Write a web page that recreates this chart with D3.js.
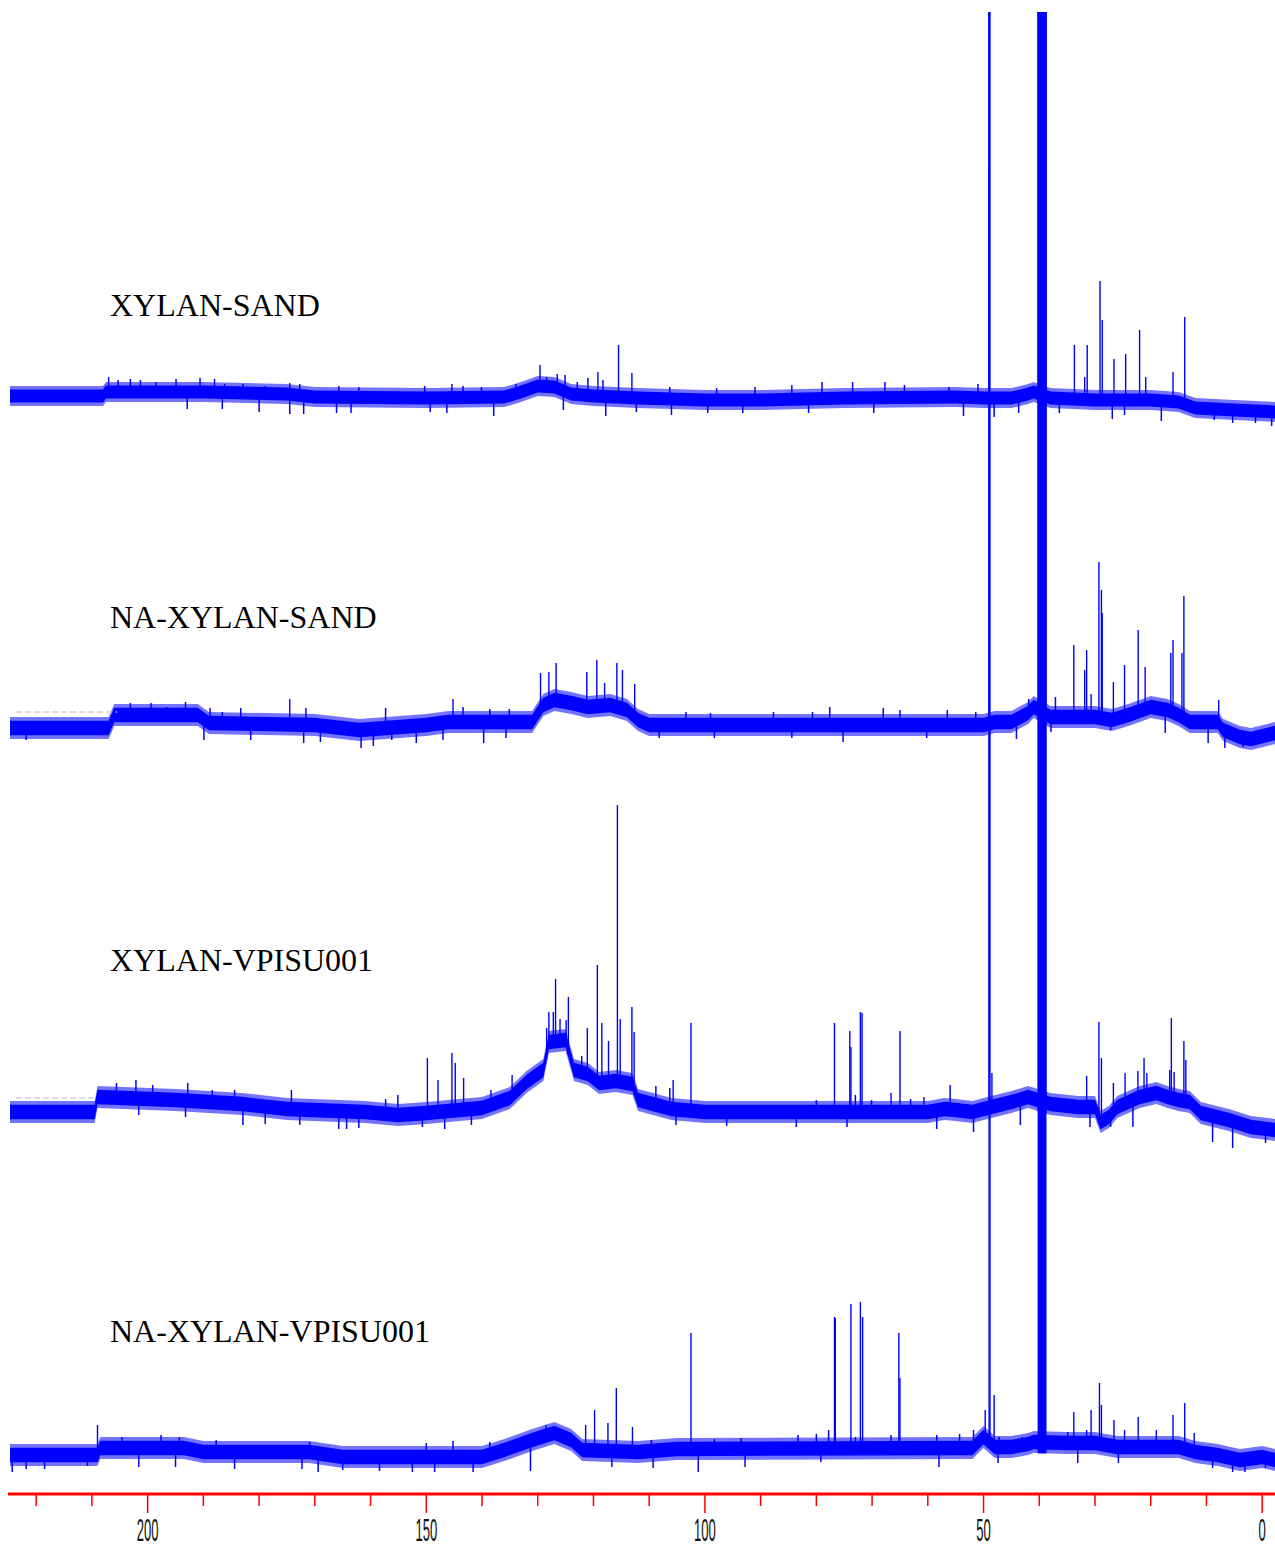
<!DOCTYPE html>
<html>
<head>
<meta charset="utf-8">
<script src="https://cdn.jsdelivr.net/npm/d3@7"></script>
<style>
  body { margin: 0; background: #fff; }
</style>
</head>
<body>
<div id="chart"></div>
<script>
// ---- data ----
var sampleNames = ["XYLAN-SAND", "NA-XYLAN-SAND", "XYLAN-VPISU001", "NA-XYLAN-VPISU001"];

var majorTicks = [200, 150, 100, 50, 0];
var minorTicks = [220, 210, 190, 180, 170, 160, 140, 130, 120, 110, 90, 80, 70, 60, 40, 30, 20, 10];

// baseline drift per spectrum: [ppm, level a.u.]
var xylanSandBase = [[224.7,4],[208,4],[207.5,8],[190,8],[175,6],[170,3],[150,2],[136,3],[133,8],[130,14],[127,13],[124,6],[120,4],[112,2],[100,0],[90,0],[75,2],[55,3],[50,2],[45,2],[42,6],[41,8],[38,2],[30,0],[20,0],[15,-2],[12,-8],[5,-10],[-2.3,-12]];
var naXylanSandBase = [[224.7,-3],[207,-3],[206,10],[191,10],[189,2],[170,0],[162,-5],[150,0],[146,3],[131,3],[129,20],[127,25],[124,22],[121,18],[117,20],[114,15],[112,5],[110,0],[50,0],[48,3],[45,3],[42,12],[41,18],[38,8],[30,8],[27,5],[24,10],[20,18],[17,15],[15,10],[13,3],[8,3],[7,-5],[4,-12],[2,-14],[-2.3,-8]];
var xylanVpisuBase = [[224.7,0],[209.5,0],[209,15],[195,12],[183,8],[175,3],[161,0],[155,-3],[150,-1],[140,4],[135,14],[132,30],[129,42],[128,70],[125,72],[123.5,42],[121,38],[119,29],[116,31],[113,28],[112,12],[106,3],[100,0],[60,0],[57,3],[55,2],[52,0],[50,3],[45,10],[42,15],[38,8],[33,5],[30,5],[29,-10],[27.5,-5],[26,5],[22,15],[19,19],[17,15],[15,12],[13,10],[11,-1],[6,-8],[2,-15],[-2.3,-18]];
var naXylanVpisuBase = [[224.7,-3],[209,-3],[208.5,4],[193.5,4],[190,0],[171,0],[165,-5],[140,-5],[136,2],[131,12],[127,19],[124,12],[122,2],[112,0],[105,3],[52,4],[50,15],[48,5],[45,5],[42,8],[41,10],[35,9],[30,9],[26,5],[15,5],[12,0],[8,-3],[4,-8],[0,-5],[-2.3,-8]];

// noise half-amplitude per spectrum (a.u.)
var noiseLevel = [10, 11, 11, 11];

// resonances: [ppm, peak top a.u. above the spectrum's zero]
var xylanSandPeaks = [[207,23],[188,21],[174.5,17],[145.4,16],[129.6,35],[119.2,28],[115.5,55],[113.1,27],[49.0,232],[33.7,55],[31.85,23],[31.4,55],[29.1,119],[28.7,80],[26.6,41],[24.5,46],[22.0,70],[20.9,23],[16.0,28],[13.9,83]];
var naXylanSandPeaks = [[174.5,26],[145.2,26],[129.5,52],[128,53],[126.7,62],[121.2,53],[119.4,65],[118,42],[115.8,62],[114.8,55],[112.6,41],[49.0,2000],[33.8,80],[31.85,55],[31.5,75],[30.7,31],[29.3,163],[28.85,135],[28.7,112],[26.7,43],[24.7,60],[22.25,95],[21.0,58],[16.4,72],[16.0,85],[14.4,72],[14.05,129],[7.8,25]];
var xylanVpisuPeaks = [[149.8,54],[147.9,32],[145.4,59],[144.8,49],[143.3,34],[138.4,22],[134.6,37],[128.4,84],[128.0,100],[127.2,100],[126.8,133],[126.0,93],[124.9,92],[124.5,115],[122.1,56],[121.1,84],[119.3,147],[118.5,89],[117.3,71],[115.7,307],[115.2,93],[113.1,105],[112.7,80],[105.7,32],[102.5,89],[76.75,89],[74.0,81],[73.8,65],[72.1,100],[71.8,99],[66.6,19],[65.0,81],[60.7,15],[49.0,2000],[48.5,39],[31.5,36],[29.3,90],[28.85,54],[26.7,29],[24.6,39],[22.3,41],[21.2,54],[20.7,39],[16.6,42],[16.3,94],[15.8,40],[14.05,71],[13.7,52]];
var naXylanVpisuPeaks = [[209,27],[128.5,27],[121.4,27],[119.8,42],[117.4,29],[115.9,64],[113.0,25],[102.5,119],[76.75,135],[76.6,134],[73.8,148],[72.1,150],[71.7,135],[65.2,119],[65.0,74],[49.7,42],[49.0,2000],[48.85,2000],[48.1,57],[33.8,40],[30.7,42],[29.2,69],[28.85,47],[26.6,32],[24.7,22],[22.25,35],[19.0,22],[16.0,37],[13.9,49],[12.2,19]];

// strongest noise excursions (up and down): [ppm, level a.u.]
var xylanSandNoise = [[205.3,20],[203.1,21],[201.3,20],[198.5,18],[194.9,21],[190.6,22],[186.2,16],[182.9,16],[178.9,14],[172.7,16],[165.7,14],[162.1,13],[150.3,14],[143.4,14],[140.1,13],[133.9,16],[128.4,23],[126.5,26],[125.1,25],[122.9,18],[121.0,22],[118.3,20],[106.3,13],[97.9,12],[91.0,13],[84.4,15],[79.0,18],[73.5,18],[67.7,18],[64.2,15],[56.2,13],[51.0,16],[41.9,13],
    [192.9,-9],[186.6,-9],[180.0,-12],[174.5,-14],[172.0,-14],[166.1,-13],[163.5,-13],[149.3,-12],[146.3,-13],[137.9,-16],[125.4,-10],[117.8,-16],[112.3,-12],[106.0,-15],[99.5,-13],[93.2,-13],[81.4,-13],[69.7,-13],[53.6,-16],[48.1,-17],[43.7,-13],[36.4,-13],[26.9,-19],[24.7,-15],[18.1,-21],[8.6,-20],[5.3,-23],[1.2,-23],[-1.7,-26]];
var naXylanSandNoise = [[203.1,22],[199.4,22],[196.5,18],[193.2,23],[188.8,17],[186.6,13],[183.3,17],[171.6,17],[157.3,17],[143.4,18],[138.6,16],[135.1,16],[103.4,13],[99.0,12],[87.7,13],[80.7,13],[77.6,18],[68.0,17],[65.0,15],[56.5,15],[51.4,13],[41.9,26],[37.1,28],
    [221.8,-15],[214.8,-10],[189.9,-15],[181.5,-15],[172.0,-18],[169.0,-17],[161.7,-23],[159.5,-21],[156.2,-15],[151.8,-18],[147.0,-15],[139.7,-18],[135.7,-13],[108.2,-13],[98.3,-13],[84.4,-13],[75.2,-17],[60.2,-13],[44.1,-14],[37.9,-7],[27.2,-5],[17.4,-8],[9.7,-18],[6.7,-23],[3.4,-22],[1.2,-18]];
var xylanVpisuNoise = [[205.6,29],[202.1,32],[199.1,27],[192.8,29],[188.4,22],[184.4,22],[174.2,22],[157.3,13],[155.1,17],[108.8,26],[106.3,24],[80.0,12],[73.0,17],[70.1,12],[63.1,13],[56.0,27],
    [201.6,-3],[193.2,-5],[182.9,-13],[178.9,-12],[172.7,-13],[165.7,-17],[164.3,-17],[162.1,-16],[150.7,-15],[146.7,-17],[141.9,-13],[105.2,-13],[96.1,-14],[83.6,-15],[74.5,-15],[58.4,-17],[51.8,-20],[43.4,-13],[30.9,-15],[27.2,-15],[23.2,-15],[8.9,-30],[5.3,-36],[-0.6,-31]];
var naXylanVpisuNoise = [[204.6,15],[197.6,17],[194.3,15],[187.7,12],[170.9,10],[150.0,9],[145.2,11],[138.6,10],[109.6,12],[98.3,13],[93.5,14],[83.3,17],[80.0,18],[77.8,22],[73.0,15],[66.6,17],[58.4,17],[54.3,18],[51.8,22],[47.2,15],[43.1,15],[34.9,20],[31.5,22],
    [224.3,-20],[221.8,-17],[218.5,-17],[210.8,-14],[201.6,-15],[195.0,-15],[184.4,-17],[172.3,-17],[169.4,-20],[165.0,-18],[158.4,-19],[152.5,-20],[148.5,-20],[141.6,-20],[131.3,-19],[116.7,-15],[109.3,-16],[101.2,-20],[92.8,-15],[79.2,-10],[58.0,-15],[47.4,-11],[33.1,-11],[25.8,-11],[8.9,-16],[5.3,-20],[3.1,-20],[-0.6,-16]];

// DMSO-d6 solvent septet, off scale in every spectrum
var dmsoLines = [40.1, 39.9, 39.7, 39.5, 39.3, 39.1, 38.9];
var solventHeight = 2000;

// faint dashed artefacts at the left edge: [spectrum, ppm from, ppm to, level]
var leftArtefacts = [[1, 223.6, 205.4, 13], [2, 223.6, 209.6, 14]];

var allBases = [xylanSandBase, naXylanSandBase, xylanVpisuBase, naXylanVpisuBase];
var allPeaks = [xylanSandPeaks, naXylanSandPeaks, xylanVpisuPeaks, naXylanVpisuPeaks];
var allNoise = [xylanSandNoise, naXylanSandNoise, xylanVpisuNoise, naXylanVpisuNoise];

// ---- layout ----
var width = 1275, height = 1550;
var stackOffset = [400, 725, 1112, 1452];
var labelBaseline = [316, 628, 971, 1342];
var axisY = 1494;
var blue = "#0000ff";

var xScale = d3.scaleLinear().domain([224.7, -2.3]).range([10, 1275]);
var yScale = d3.scaleLinear().domain([0, 100]).range([0, -100]);

function baseAt(arr, ppm) {
    for (var i = 0; i < arr.length - 1; i++) {
        var a = arr[i], b = arr[i + 1];
        if (ppm <= a[0] && ppm >= b[0]) {
            var t = (a[0] - ppm) / (a[0] - b[0]);
            return a[1] + t * (b[1] - a[1]);
        }
    }
    return arr[arr.length - 1][1];
}

var svg = d3.select("#chart").append("svg")
    .attr("width", width)
    .attr("height", height);

svg.append("defs").append("clipPath")
    .attr("id", "plotclip")
    .append("rect")
    .attr("x", 10).attr("y", 12)
    .attr("width", 1265).attr("height", 1470);

var plot = svg.append("g").attr("clip-path", "url(#plotclip)");

sampleNames.forEach(function(name, i) {
    var off = stackOffset[i];
    var base = allBases[i];
    var nz = noiseLevel[i];
    var g = plot.append("g").attr("class", "spectrum");

    // noise envelope, outer (lighter) and core
    var outer = d3.area()
        .x(d => xScale(d[0]))
        .y0(d => off + yScale(d[1] - nz))
        .y1(d => off + yScale(d[1] + nz));
    var inner = d3.area()
        .x(d => xScale(d[0]))
        .y0(d => off + yScale(d[1] - nz * 0.65))
        .y1(d => off + yScale(d[1] + nz * 0.65));

    g.append("path").datum(base).attr("d", outer)
        .attr("fill", blue).attr("fill-opacity", 0.55);
    g.append("path").datum(base).attr("d", inner)
        .attr("fill", blue);

    // noise excursions
    g.selectAll("line.noise")
        .data(allNoise[i])
        .join("line")
        .attr("class", "noise")
        .attr("x1", d => xScale(d[0]))
        .attr("x2", d => xScale(d[0]))
        .attr("y1", d => off + yScale(baseAt(base, d[0])))
        .attr("y2", d => off + yScale(d[1]))
        .attr("stroke", blue)
        .attr("stroke-width", 1.5);

    // resonance lines
    g.selectAll("line.peak")
        .data(allPeaks[i])
        .join("line")
        .attr("class", "peak")
        .attr("x1", d => xScale(d[0]))
        .attr("x2", d => xScale(d[0]))
        .attr("y1", d => off + yScale(baseAt(base, d[0]) - nz * 0.5))
        .attr("y2", d => off + yScale(d[1]))
        .attr("stroke", blue)
        .attr("stroke-width", 1.4);

    // solvent
    g.selectAll("line.dmso")
        .data(dmsoLines)
        .join("line")
        .attr("class", "dmso")
        .attr("x1", d => xScale(d))
        .attr("x2", d => xScale(d))
        .attr("y1", d => off + yScale(baseAt(base, d) - nz))
        .attr("y2", off + yScale(solventHeight))
        .attr("stroke", blue)
        .attr("stroke-width", 2.2);

    svg.append("text")
        .attr("x", 110)
        .attr("y", labelBaseline[i])
        .attr("font-family", "'Liberation Serif', 'Times New Roman', serif")
        .attr("font-size", "32px")
        .attr("fill", "#000")
        .text(name);
});

leftArtefacts.forEach(function(a) {
    var off = stackOffset[a[0]];
    plot.append("line")
        .attr("x1", xScale(a[1])).attr("x2", xScale(a[2]))
        .attr("y1", off + yScale(a[3])).attr("y2", off + yScale(a[3]))
        .attr("stroke", "#bbb")
        .attr("stroke-width", 1)
        .attr("stroke-dasharray", "6,3");
});

// ---- ppm axis ----
var axis = svg.append("g");
axis.append("line")
    .attr("x1", 8).attr("x2", 1275)
    .attr("y1", axisY).attr("y2", axisY)
    .attr("stroke", "#ff0000")
    .attr("stroke-width", 3);

axis.selectAll("line.minor")
    .data(minorTicks)
    .join("line")
    .attr("class", "minor")
    .attr("x1", d => xScale(d)).attr("x2", d => xScale(d))
    .attr("y1", axisY).attr("y2", axisY + 12)
    .attr("stroke", "#ff0000")
    .attr("stroke-width", 1.5);

axis.selectAll("line.major")
    .data(majorTicks)
    .join("line")
    .attr("class", "major")
    .attr("x1", d => xScale(d)).attr("x2", d => xScale(d))
    .attr("y1", axisY).attr("y2", axisY + 19)
    .attr("stroke", "#ff0000")
    .attr("stroke-width", 1.5);

axis.selectAll("text.tick")
    .data(majorTicks)
    .join("text")
    .attr("class", "tick")
    .attr("transform", d => "translate(" + xScale(d) + "," + 1541 + ") scale(0.45,1.1)")
    .attr("text-anchor", "middle")
    .attr("font-family", "'Liberation Sans', Arial, sans-serif")
    .attr("font-size", "29px")
    .attr("fill", "#111")
    .text(d => d);
</script>
</body>
</html>
